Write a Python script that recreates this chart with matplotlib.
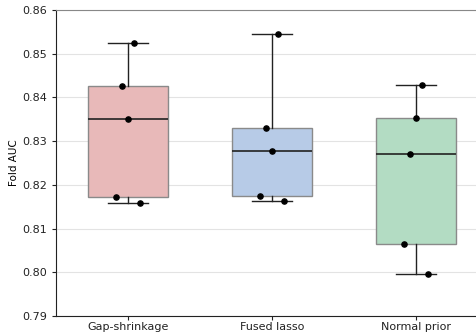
import matplotlib
matplotlib.use("Agg")
import matplotlib.pyplot as plt
import numpy as np

methods = ["Gap-shrinkage", "Fused lasso", "Normal prior"]
# per-fold AUC values, in fold order
gap_shrinkage = [0.8173, 0.8427, 0.8350, 0.8524, 0.8159]
fused_lasso = [0.8174, 0.8331, 0.8277, 0.8545, 0.8162]
normal_prior = [0.8065, 0.8271, 0.8352, 0.8429, 0.7996]
fold_offsets = [-0.08, -0.04, 0.0, 0.04, 0.08]

box_colors = ["#e8b9b9", "#b7cbe7", "#b3dcc3"]
series = [gap_shrinkage, fused_lasso, normal_prior]

fig = plt.figure(figsize=(4.77, 3.33), dpi=100)
ax = fig.add_axes([56 / 477, 17 / 333, 432 / 477, 306 / 333])

bp = ax.boxplot(series, positions=range(len(methods)), widths=0.55,
                patch_artist=True, showfliers=False, whis=10,
                medianprops=dict(color="#222222", linewidth=1.2),
                whiskerprops=dict(color="#222222", linewidth=1.0),
                capprops=dict(color="#222222", linewidth=1.0),
                boxprops=dict(linewidth=1.0))
for patch, c in zip(bp["boxes"], box_colors):
    patch.set_facecolor(c)
    patch.set_edgecolor("#8a8a8a")

for i, vals in enumerate(series):
    ax.scatter(np.array(fold_offsets) + i, vals, s=14, color="black", zorder=5)

ax.set_xlim(-0.5, 2.5)
ax.set_ylim(0.79, 0.86)
ax.set_yticks(np.arange(0.79, 0.8601, 0.01))
ax.set_yticklabels([f"{v:.2f}" for v in np.arange(0.79, 0.8601, 0.01)])
ax.set_xticks(range(len(methods)))
ax.set_xticklabels(methods)
ax.tick_params(labelsize=8, length=3, colors="#222222", labelcolor="#222222")
ax.tick_params(axis="x", pad=1.5)
ax.set_ylabel("Fold AUC", fontsize=7.5, labelpad=2)
ax.grid(axis="y", color="#e3e3e3", linewidth=0.8)
ax.set_axisbelow(True)
ax.spines["right"].set_visible(False)
ax.spines["top"].set_color("#888888")
ax.spines["left"].set_color("#222222")
ax.spines["bottom"].set_color("#222222")

fig.savefig("out.png", dpi=100)
